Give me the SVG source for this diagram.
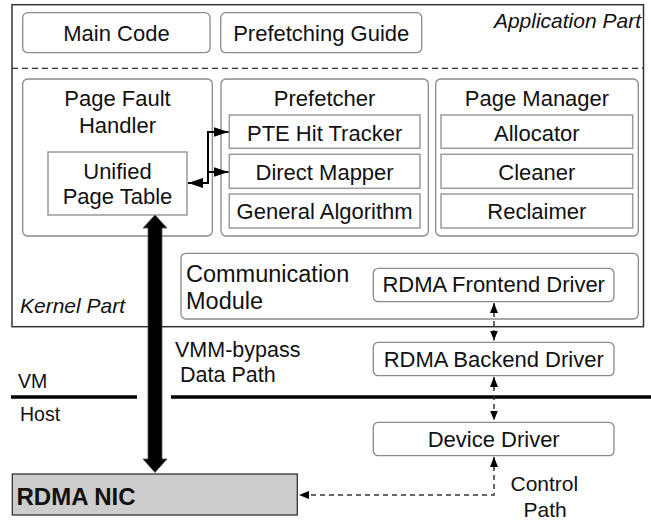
<svg xmlns="http://www.w3.org/2000/svg" width="651" height="521" viewBox="0 0 651 521">
<style>
text{font-family:"Liberation Sans",Arial,Helvetica,sans-serif;fill:#111;}
.l{font-size:22px;}
.c{text-anchor:middle;}
.it{font-style:italic;font-size:21px;}
.rb{fill:#fff;stroke:#8a8a8a;stroke-width:1.3;}
.sb{fill:#fff;stroke:#9a9a9a;stroke-width:1.5;}
.dash{fill:none;stroke:#333;stroke-width:1.5;stroke-dasharray:5,4;}
.thin{fill:none;stroke:#000;stroke-width:2;}
</style>
<defs>
<marker id="a" viewBox="0 0 10 8" refX="10" refY="4" markerWidth="10" markerHeight="8" markerUnits="userSpaceOnUse" orient="auto-start-reverse"><path d="M0,0 L10,4 L0,8 Z" fill="#000"/></marker>
<marker id="b" viewBox="0 0 15 10" refX="15" refY="5" markerWidth="15" markerHeight="10" markerUnits="userSpaceOnUse" orient="auto-start-reverse"><path d="M0,0 L15,5 L0,10 Z" fill="#000"/></marker>
</defs>
<rect x="0" y="0" width="651" height="521" fill="#fff"/>

<g id="vm-part">
<rect x="12" y="4.7" width="631.5" height="322" fill="#fff" stroke="#333" stroke-width="1.5"/>
<line x1="12" y1="68.3" x2="643.5" y2="68.3" stroke="#333" stroke-width="1.3" stroke-dasharray="6,4"/>
<text x="641" y="28" class="it" text-anchor="end">Application Part</text>
<text x="20" y="313.3" class="it">Kernel Part</text>
</g>

<g id="main-code">
<rect x="22.7" y="12.7" width="187.3" height="40" rx="5" class="rb"/>
<text x="116.5" y="40.7" class="l c">Main Code</text>
</g>
<g id="prefetching-guide">
<rect x="220.7" y="12.7" width="201" height="40" rx="5" class="rb"/>
<text x="321.2" y="40.7" class="l c">Prefetching Guide</text>
</g>

<g id="page-fault-handler">
<rect x="22.7" y="79" width="189.6" height="157" rx="5" class="rb"/>
<text x="117.5" y="106" class="l c">Page Fault</text>
<text x="117.5" y="132.7" class="l c">Handler</text>
</g>
<g id="unified-page-table">
<rect x="48" y="152" width="139" height="63" class="sb"/>
<text x="117.5" y="179" class="l c">Unified</text>
<text x="117.5" y="204" class="l c">Page Table</text>
</g>

<g id="prefetcher">
<rect x="221" y="79" width="207.3" height="157" rx="5" class="rb"/>
<text x="324.6" y="106" class="l c">Prefetcher</text>
</g>
<g id="pte-hit-tracker">
<rect x="229.3" y="115" width="190.7" height="33.3" class="sb"/>
<text x="324.6" y="140.5" class="l c">PTE Hit Tracker</text>
</g>
<g id="direct-mapper">
<rect x="229.3" y="154.3" width="190.7" height="34" class="sb"/>
<text x="324.6" y="179.5" class="l c">Direct Mapper</text>
</g>
<g id="general-algorithm">
<rect x="229.3" y="194" width="190.7" height="34" class="sb"/>
<text x="324.6" y="219" class="l c">General Algorithm</text>
</g>

<g id="page-manager">
<rect x="435.7" y="79" width="202.6" height="157" rx="5" class="rb"/>
<text x="537" y="106" class="l c">Page Manager</text>
</g>
<g id="allocator">
<rect x="441" y="115" width="191.7" height="33.3" class="sb"/>
<text x="536.8" y="140.5" class="l c">Allocator</text>
</g>
<g id="cleaner">
<rect x="441" y="154.3" width="191.7" height="34" class="sb"/>
<text x="536.8" y="179.5" class="l c">Cleaner</text>
</g>
<g id="reclaimer">
<rect x="441" y="194" width="191.7" height="34" class="sb"/>
<text x="536.8" y="219" class="l c">Reclaimer</text>
</g>

<g id="communication-module">
<rect x="181" y="253.3" width="457.3" height="65.7" rx="5" class="rb"/>
<text x="186" y="281.5" style="font-size:23.5px">Communication</text>
<text x="186" y="309" style="font-size:23.5px">Module</text>
</g>
<g id="rdma-frontend-driver">
<rect x="373.3" y="268.3" width="240.7" height="33.4" rx="5" class="rb"/>
<text x="493.7" y="291.7" class="l c">RDMA Frontend Driver</text>
</g>
<g id="rdma-backend-driver">
<rect x="373.3" y="342.3" width="240.7" height="33.4" rx="5" class="rb"/>
<text x="493.7" y="366.7" class="l c">RDMA Backend Driver</text>
</g>
<g id="device-driver">
<rect x="373.3" y="422.3" width="240.7" height="33.4" rx="5" class="rb"/>
<text x="493.7" y="446.7" class="l c">Device Driver</text>
</g>

<g id="vm-host-boundary">
<line x1="11" y1="397" x2="137" y2="397" stroke="#000" stroke-width="3.5"/>
<line x1="171" y1="397" x2="651" y2="397" stroke="#000" stroke-width="3.5"/>
<text x="18" y="388.3" style="font-size:19.5px">VM</text>
<text x="20" y="420.7" style="font-size:19.5px">Host</text>
</g>

<g id="rdma-nic">
<rect x="12.3" y="474" width="285" height="41" fill="#cdcdcd" stroke="#333" stroke-width="1.3"/>
<text x="16.5" y="505" style="font-size:24px;font-weight:bold">RDMA NIC</text>
</g>

<g id="connectors">
<path d="M148,228 L143,228 L155,215 L167,228 L162,228 L162,459 L167,459 L155,472.5 L143,459 L148,459 Z" fill="#000" stroke="#555" stroke-width="0.8"/>
<path d="M188,183 H208 V132 H228.5" class="thin" marker-start="url(#b)" marker-end="url(#b)"/>
<path d="M208,172 H228.5" class="thin" marker-end="url(#b)"/>
<path d="M494,303 V340.5" class="dash" marker-start="url(#a)" marker-end="url(#a)"/>
<path d="M494,377 V420.5" class="dash" marker-start="url(#a)" marker-end="url(#a)"/>
<path d="M494,457 V495 H299" class="dash" marker-start="url(#a)" marker-end="url(#a)"/>
<text x="175" y="356.5" style="font-size:21.5px">VMM-bypass</text>
<text x="180" y="381.7" style="font-size:21.5px">Data Path</text>
<text x="510.5" y="490.7" style="font-size:21px">Control</text>
<text x="523.5" y="516.7" style="font-size:21px">Path</text>
</g>
</svg>
